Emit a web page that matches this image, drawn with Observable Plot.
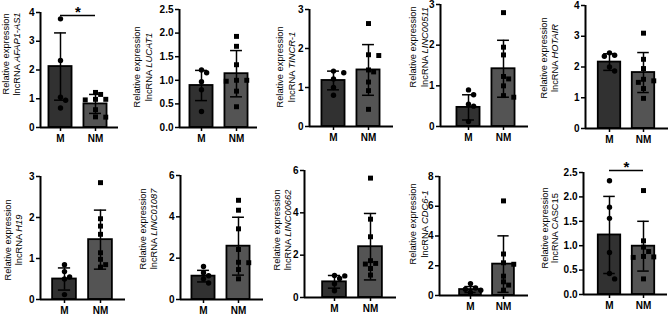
<!DOCTYPE html>
<html><head><meta charset="utf-8">
<script src="https://cdn.jsdelivr.net/npm/d3@7"></script>
<script src="https://cdn.jsdelivr.net/npm/@observablehq/plot@0.6"></script>
<style>
body{margin:0;background:#fff;}
#chart{position:relative;width:669px;height:316px;overflow:hidden;background:#fff;}
#chart svg{position:absolute;}
#chart svg text{font-weight:bold !important;}
</style></head><body><div id="chart"></div>
<script>
// ---------- data ----------
const groups = ["M", "NM"];
const genes = ["AFAP1-AS1","LUCAT1","TINCR-1","LINC00511","HOTAIR","H19","LINC01087","LINC00662","CDC6-1","CASC15"];
const geneItalic = [true,true,true,true,true,true,true,true,true,false];
const yMax = [4, 2.5, 3, 3, 4, 3, 6, 6, 8, 2.5];
const yTickStep = [1, 0.5, 1, 1, 1, 1, 2, 2, 2, 0.5];
const yTickDecimals = [0, 1, 0, 0, 0, 0, 0, 0, 0, 1];
const meanM  = [2.12, 0.89, 1.18, 0.47, 2.16, 0.50, 1.13, 0.74, 0.40, 1.22];
const sdM    = [1.17, 0.32, 0.24, 0.31, 0.27, 0.27, 0.28, 0.30, 0.20, 0.79];
const meanNM = [0.82, 1.14, 1.45, 1.42, 1.82, 1.46, 2.58, 2.40, 2.11, 0.99];
const sdNM   = [0.33, 0.49, 0.65, 0.70, 0.65, 0.72, 1.40, 1.57, 1.90, 0.51];
const pointsM = [
  [3.78, 2.33, 1.05, 0.95, 0.68],
  [1.22, 1.16, 0.97, 0.80, 0.34],
  [1.42, 1.38, 1.22, 1.00, 0.80],
  [0.90, 0.78, 0.55, 0.50, 0.12],
  [2.46, 2.38, 2.35, 2.00, 1.87],
  [0.85, 0.68, 0.55, 0.50, 0.12],
  [1.60, 1.30, 1.15, 1.00, 0.80],
  [1.04, 1.02, 0.90, 0.65, 0.32],
  [0.80, 0.50, 0.42, 0.35, 0.20],
  [2.33, 1.79, 1.56, 0.86, 0.43, 0.32]
];
const pointsNM = [
  [1.22, 1.15, 0.98, 0.98, 0.96, 0.62, 0.37, 0.36],
  [1.93, 1.72, 1.33, 1.00, 1.00, 0.98, 0.77, 0.44],
  [2.64, 1.84, 1.82, 1.45, 1.40, 1.14, 0.92, 0.44],
  [2.80, 1.95, 1.76, 1.23, 1.17, 1.00, 0.76, 0.72],
  [3.10, 2.25, 1.95, 1.60, 1.55, 1.50, 1.30, 0.98],
  [2.85, 1.97, 1.79, 1.59, 1.14, 0.98, 0.85, 0.79],
  [4.80, 4.32, 3.42, 2.42, 1.80, 1.78, 1.45, 1.00],
  [5.64, 3.70, 2.87, 1.74, 1.61, 1.58, 1.37, 1.06],
  [6.36, 2.79, 2.20, 2.10, 1.30, 0.92, 0.70, 0.36],
  [2.13, 1.10, 0.97, 0.88, 0.78, 0.77, 0.76, 0.32]
];
const sigMark  = ["*", null, null, null, null, null, null, null, null, "*"];
const sigLevel = [3.9, null, null, null, null, null, null, null, null, 2.54];

// ---------- layout (pixels) ----------
const ROW_H = 158;
const rowTop     = [0,0,0,0,0, 158,158,158,158,158];
const panelLeft  = [0,128,262,398,530, 0,128,262,398,530];
const panelRight = [128,262,398,530,669, 128,262,398,530,669];
const axisX      = [40,179,309,440,585, 40,180,304,439,583];
const axisEnd    = [118,257,393,528,668, 125,263,396,528,667];
const zeroY      = [127,127,126,126,128, 299,299,297,295,294];
const topY       = [12,9,9,4,5, 176,175,170,176,172];
const centerM    = [60,201,333,468,609, 64,203,334,470,609];
const centerNM   = [95,236,368,503,643, 100,238,370,503,643];
const labelX1    = [6,137,280,413,544, 8,143,277,413,545];
const labelX2    = [17,149,292,425,555, 19,154,288,425,555];
const labelCY    = [54,67,67,47,58, 240,229,230,224,228];

const FONT = "'Liberation Sans', Arial, Helvetica, sans-serif";
const barFill = ["#313131", "#545454"];

function spread(values, pxPerUnit, step, sep = 5.4) {
  const placed = [];
  return values.map(v => {
    const py = v * pxPerUnit;
    for (let k = 0; k < 7; k++) {
      const off = k === 0 ? 0 : (k % 2 ? 1 : -1) * Math.ceil(k / 2) * sep * 0.95;
      if (placed.every(p => Math.hypot(p[0] - off, p[1] - py) >= sep)) {
        placed.push([off, py]);
        return off / step;
      }
    }
    placed.push([0, py]);
    return 0;
  });
}

const chart = document.getElementById("chart");

genes.forEach((gene, p) => {
  const W = panelRight[p] - panelLeft[p];
  const step = centerNM[p] - centerM[p];
  const xLeft = (axisX[p] - centerM[p]) / step;
  const xRight = 1 + (axisEnd[p] - centerNM[p]) / step;
  const pxPerUnit = (zeroY[p] - topY[p]) / yMax[p];

  const summary = [
    {i: 0, mean: meanM[p], sd: sdM[p]},
    {i: 1, mean: meanNM[p], sd: sdNM[p]}
  ];
  const offM = spread(pointsM[p], pxPerUnit, step);
  const offNM = spread(pointsNM[p], pxPerUnit, step);
  const dotsM = pointsM[p].map((v, k) => ({x: 0 + offM[k], y: v}));
  const dotsNM = pointsNM[p].map((v, k) => ({x: 1 + offNM[k], y: v}));

  const ticks = d3.range(0, yMax[p] + 1e-9, yTickStep[p]);

  const marks = [
    Plot.rectY(summary, {x1: d => d.i - 0.33, x2: d => d.i + 0.33, y1: 0, y2: d => d.mean,
      fill: d => barFill[d.i], stroke: "#000", strokeWidth: 1.8}),
    Plot.ruleX(summary, {x: "i", y1: d => d.mean - d.sd, y2: d => d.mean + d.sd, stroke: "#000", strokeWidth: 1.5}),
    Plot.ruleY(summary, {y: d => d.mean + d.sd, x1: d => d.i - 0.17, x2: d => d.i + 0.17, stroke: "#000", strokeWidth: 1.5}),
    Plot.ruleY(summary, {y: d => d.mean - d.sd, x1: d => d.i - 0.17, x2: d => d.i + 0.17, stroke: "#000", strokeWidth: 1.5}),
    Plot.dot(dotsM, {x: "x", y: "y", r: 2.7, fill: "#000", stroke: null, symbol: "circle"}),
    Plot.dot(dotsNM, {x: "x", y: "y", r: 2.8, fill: "#000", stroke: null, symbol: "square"}),
    Plot.ruleX([xLeft], {y1: 0, y2: yMax[p], stroke: "#000", strokeWidth: 2}),
    Plot.ruleY([0], {x1: xLeft, x2: xRight, stroke: "#000", strokeWidth: 2}),
    Plot.axisY({ticks, tickFormat: d => d.toFixed(yTickDecimals[p]), tickSize: 4, tickPadding: 2,
      label: null, fontSize: 10, strokeWidth: 1.5}),
    Plot.axisX({ticks: [0, 1], tickFormat: i => groups[i], tickSize: 4, tickPadding: 3,
      label: null, fontSize: 10, strokeWidth: 1.5})
  ];
  if (sigMark[p]) {
    marks.push(Plot.ruleY([sigLevel[p]], {x1: 0, x2: 1, stroke: "#000", strokeWidth: 1.5}));
    marks.push(Plot.text([sigMark[p]], {x: 0.5, y: sigLevel[p], text: d => d, fontSize: 15, dy: -3}));
  }

  const svg = Plot.plot({
    width: W,
    height: ROW_H,
    marginLeft: axisX[p] - panelLeft[p],
    marginRight: panelRight[p] - axisEnd[p],
    marginTop: topY[p] - rowTop[p],
    marginBottom: rowTop[p] + ROW_H - zeroY[p],
    x: {type: "linear", domain: [xLeft, xRight]},
    y: {type: "linear", domain: [0, yMax[p]]},
    style: {fontFamily: FONT, fontSize: "10px", fontWeight: "bold", background: "transparent", color: "#000", overflow: "visible"},
    marks
  });
  svg.style.left = panelLeft[p] + "px";
  svg.style.top = rowTop[p] + "px";

  const lbl = d3.select(svg).append("text")
    .attr("transform", `translate(${labelX1[p] - panelLeft[p]},${labelCY[p] - rowTop[p]}) rotate(-90)`)
    .attr("text-anchor", "middle")
    .style("font-family", FONT)
    .style("font-size", "9.3px")
    .style("font-weight", "normal", "important")
    .style("white-space", "pre")
    .attr("fill", "#000");
  lbl.append("tspan").attr("x", 0).attr("y", 0).attr("dy", "0.35em").text("Relative expression");
  lbl.append("tspan").attr("x", 0).attr("y", labelX2[p] - labelX1[p]).attr("dy", "0.35em").text("lncRNA ");
  lbl.append("tspan").style("font-style", geneItalic[p] ? "italic" : "normal").text(gene);

  chart.appendChild(svg);
});
</script>
</body></html>
